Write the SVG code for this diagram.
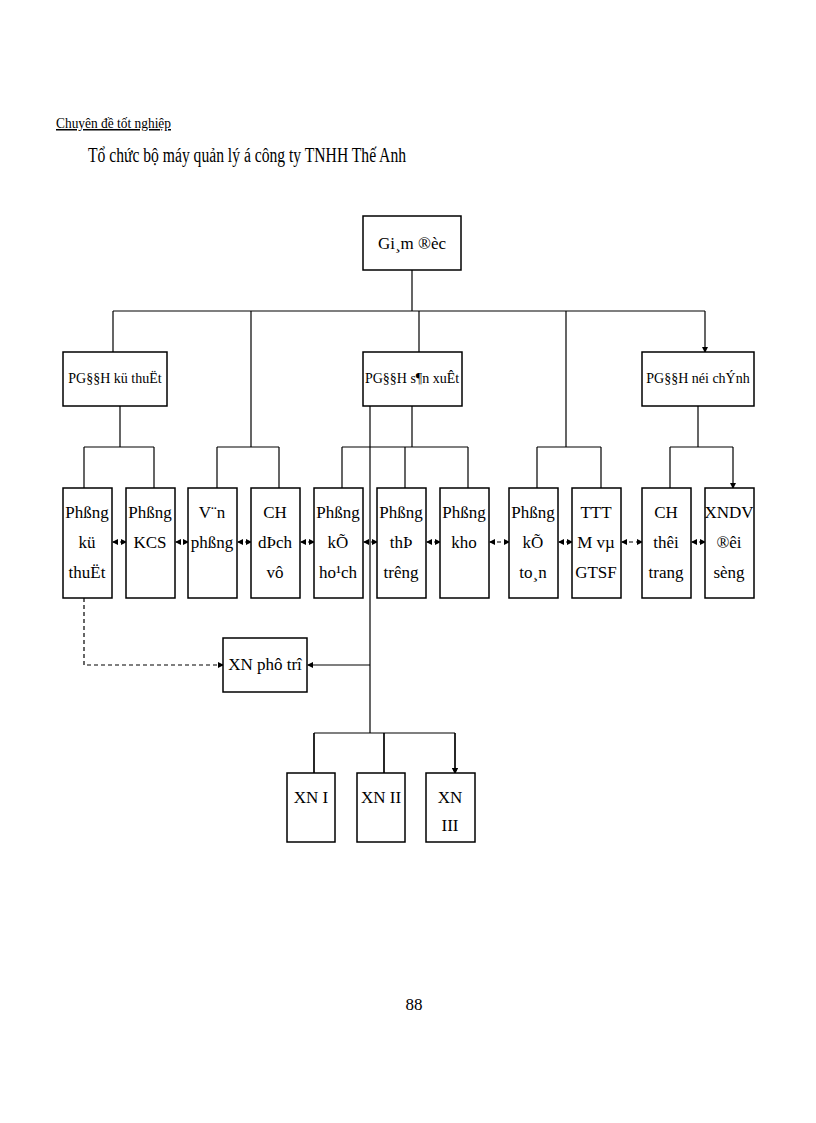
<svg xmlns="http://www.w3.org/2000/svg" width="816" height="1123" viewBox="0 0 816 1123">
<style>
rect{fill:#fff;stroke:#000;stroke-width:1.5}
text{font-family:"Liberation Serif",serif;fill:#000;text-anchor:middle}
.b{font-size:17px}.s{font-size:14px}
.l{stroke:#000;stroke-width:1.2;fill:none}
.d{stroke:#000;stroke-width:1.2;fill:none;stroke-dasharray:4 3}
</style>
<defs><marker id="a" markerWidth="6" markerHeight="6" refX="5" refY="3" orient="auto-start-reverse" markerUnits="userSpaceOnUse"><path d="M0,0 L6,3 L0,6z"/></marker></defs>
<rect width="816" height="1123" style="fill:#fff;stroke:none"/>
<text x="56" y="128" style="font-size:15px;text-anchor:start;text-decoration:underline" textLength="115" lengthAdjust="spacingAndGlyphs">Chuyên đề tốt nghiệp</text>
<text x="88" y="162" style="font-size:20px;text-anchor:start" textLength="318" lengthAdjust="spacingAndGlyphs">Tổ chức bộ máy quản lý á công ty TNHH Thế Anh</text>
<g id="connectors">
<path class="l" d="M412 270V311M113 311H705"/>
<path class="l" d="M113 311V352M251 311V447M419 311V352M566 311V447M705 311V352" marker-end="url(#a)"/>
<path class="l" d="M120 406V447M84 447H154M412 406V447M342 447H468M698 406V447M670 447H733M217 447H279M537 447H601"/>
<path class="l" marker-end="url(#a)" d="M84 447V488M154 447V488M217 447V488M279 447V488M342 447V488M405 447V488M468 447V488M537 447V488M601 447V488M670 447V488M733 447V488"/>
<g class="d" marker-start="url(#a)" marker-end="url(#a)">
<path d="M113 542H126"/><path d="M176 542H188"/><path d="M238 542H251"/><path d="M301 542H314"/><path d="M364 542H377"/><path d="M427 542H440"/><path d="M490 542H509"/><path d="M559 542H572"/><path d="M622 542H642"/><path d="M692 542H705"/>
</g>
<path class="d" d="M84 598V665H223" marker-end="url(#a)"/>
<path class="l" d="M370 385V733"/>
<path class="l" d="M370 665H308" marker-end="url(#a)"/>
<path class="l" d="M314 733H455M314 733V773M384 733V773M455 733V773" marker-end="url(#a)"/>
<path class="l" d="M314 733V773M384 733V773M455 733V773" marker-end="url(#a)"/>
</g>
<g id="gd"><rect x="363" y="216" width="98" height="54"/><text class="b" x="412" y="249">Gi¸m ®èc</text></g>
<g id="pgd1"><rect x="63" y="352" width="104" height="54"/><text class="s" x="115" y="383">PG§§H kü thuËt</text></g>
<g id="pgd2"><rect x="363" y="352" width="99" height="54"/><text class="s" x="412" y="383">PG§§H s¶n xuÊt</text></g>
<g id="pgd3"><rect x="642" y="352" width="112" height="54"/><text class="s" x="698" y="383">PG§§H néi chÝnh</text></g>
<g id="n1"><rect x="63" y="488" width="49" height="110"/><text class="b" x="87" y="518">Phßng</text><text class="b" x="87" y="548">kü</text><text class="b" x="87" y="578">thuËt</text></g>
<g id="n2"><rect x="126" y="488" width="49" height="110"/><text class="b" x="150" y="518">Phßng</text><text class="b" x="150" y="548">KCS</text></g>
<g id="n3"><rect x="188" y="488" width="49" height="110"/><text class="b" x="212" y="518">V¨n</text><text class="b" x="212" y="548">phßng</text></g>
<g id="n4"><rect x="251" y="488" width="49" height="110"/><text class="b" x="275" y="518">CH</text><text class="b" x="275" y="548">dÞch</text><text class="b" x="275" y="578">vô</text></g>
<g id="n5"><rect x="314" y="488" width="49" height="110"/><text class="b" x="338" y="518">Phßng</text><text class="b" x="338" y="548">kÕ</text><text class="b" x="338" y="578">ho¹ch</text></g>
<g id="n6"><rect x="377" y="488" width="49" height="110"/><text class="b" x="401" y="518">Phßng</text><text class="b" x="401" y="548">thÞ</text><text class="b" x="401" y="578">tr­êng</text></g>
<g id="n7"><rect x="440" y="488" width="49" height="110"/><text class="b" x="464" y="518">Phßng</text><text class="b" x="464" y="548">kho</text></g>
<g id="n8"><rect x="509" y="488" width="49" height="110"/><text class="b" x="533" y="518">Phßng</text><text class="b" x="533" y="548">kÕ</text><text class="b" x="533" y="578">to¸n</text></g>
<g id="n9"><rect x="572" y="488" width="49" height="110"/><text class="b" x="596" y="518">TTT</text><text class="b" x="596" y="548">M vµ</text><text class="b" x="596" y="578">GTSF</text></g>
<g id="n10"><rect x="642" y="488" width="49" height="110"/><text class="b" x="666" y="518">CH</text><text class="b" x="666" y="548">thêi</text><text class="b" x="666" y="578">trang</text></g>
<g id="n11"><rect x="705" y="488" width="49" height="110"/><text class="b" x="729" y="518">XNDV</text><text class="b" x="729" y="548">®êi</text><text class="b" x="729" y="578">sèng</text></g>
<g id="pt"><rect x="223" y="638" width="84" height="54"/><text class="b" x="265" y="670">XN phô trî</text></g>
<g id="x1"><rect x="287" y="773" width="48" height="69"/><text class="b" x="311" y="803">XN I</text></g>
<g id="x2"><rect x="357" y="773" width="48" height="69"/><text class="b" x="381" y="803">XN II</text></g>
<g id="x3"><rect x="426" y="773" width="49" height="69"/><text class="b" x="450" y="803">XN</text><text class="b" x="450" y="831">III</text></g>
<text x="414" y="1010" style="font-size:17px">88</text>
</svg>
